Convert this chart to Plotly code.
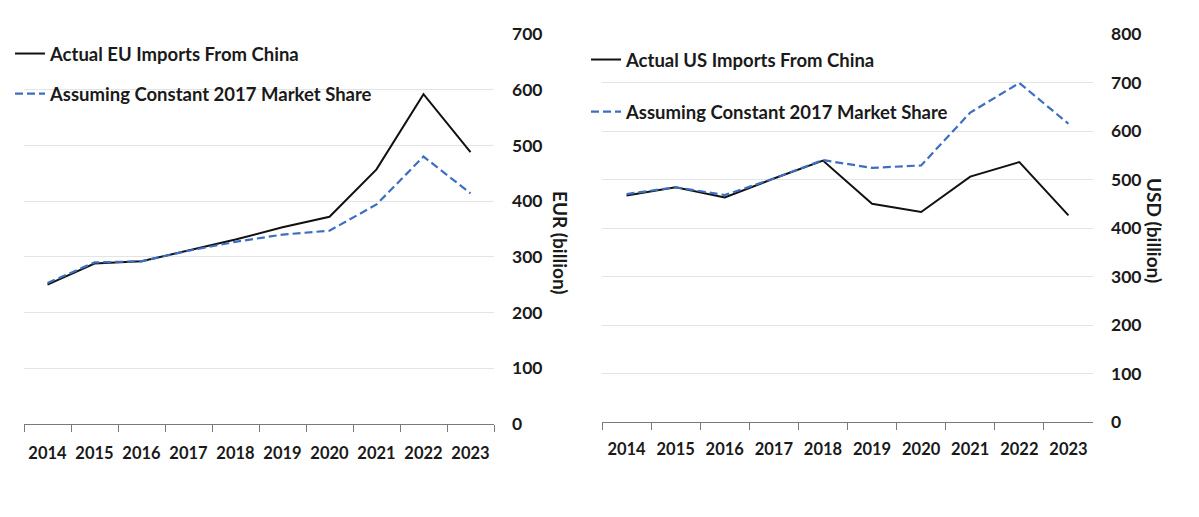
import plotly.graph_objects as go

years = ["2014", "2015", "2016", "2017", "2018", "2019", "2020", "2021", "2022", "2023"]

eu_actual = [250, 288, 292, 312, 331, 353, 372, 457, 592, 488]
eu_constant = [253, 290, 292, 311, 327, 340, 347, 394, 480, 414]

us_actual = [467, 484, 463, 502, 539, 450, 433, 506, 536, 426]
us_constant = [470, 484, 468, 502, 540, 524, 529, 638, 699, 615]

FONT = "Lato"
BLACK = "#111111"
BLUE = "#3d6fc0"
TXT = "#1a1a1a"
DASH = "8px,4px"

fig = go.Figure()

fig.add_trace(go.Scatter(x=years, y=eu_actual, mode="lines", name="Actual EU Imports From China",
                         line=dict(color=BLACK, width=2), xaxis="x", yaxis="y",
                         legend="legend", legendgroup="a"))
fig.add_trace(go.Scatter(x=years, y=eu_constant, mode="lines", name="Assuming Constant 2017 Market Share",
                         line=dict(color=BLUE, width=2.2, dash=DASH), xaxis="x", yaxis="y",
                         legend="legend", legendgroup="b"))
fig.add_trace(go.Scatter(x=years, y=us_actual, mode="lines", name="Actual US Imports From China",
                         line=dict(color=BLACK, width=2), xaxis="x2", yaxis="y2",
                         legend="legend2", legendgroup="c"))
fig.add_trace(go.Scatter(x=years, y=us_constant, mode="lines", name="Assuming Constant 2017 Market Share",
                         line=dict(color=BLUE, width=2.2, dash=DASH), xaxis="x2", yaxis="y2",
                         legend="legend2", legendgroup="d"))

W, H = 1199, 517
OFF = 8  # page body margin offset

def px(v):
    return (v - OFF) / W

def py(v):
    return 1 - (v - OFF) / H

xaxis_common = dict(type="category", range=[-0.5, 9.5], showgrid=False, showline=True,
                    linecolor="#7a7a7a", linewidth=1, ticks="outside", ticklen=7,
                    tickcolor="#7a7a7a", tickson="boundaries",
                    tickangle=0,
                    tickfont=dict(family=FONT, size=16.5, color=TXT, weight="bold"),
                    automargin=False, fixedrange=True)
yaxis_common = dict(side="right", showgrid=True, gridcolor="#e4e4e4", gridwidth=1,
                    zeroline=False, showline=False, ticks="", dtick=100,
                    ticklabelstandoff=17,
                    tickfont=dict(family=FONT, size=17.5, color=TXT, weight="bold"),
                    automargin=False, fixedrange=True)

fig.update_layout(
    width=W, height=H,
    margin=dict(l=0, r=0, t=0, b=0),
    paper_bgcolor="white", plot_bgcolor="white",
    font=dict(family=FONT, size=15, color=TXT),
    xaxis=dict(domain=[px(24), px(494)], anchor="y", ticklabelstandoff=14, **xaxis_common),
    yaxis=dict(domain=[py(424), py(34)], anchor="x", range=[0, 700], **yaxis_common),
    xaxis2=dict(domain=[px(602), px(1093)], anchor="y2", ticklabelstandoff=12, **xaxis_common),
    yaxis2=dict(domain=[py(422), py(34)], anchor="x2", range=[0, 800], **yaxis_common),
    legend=dict(x=px(10), y=py(35), xanchor="left", yanchor="top",
                bgcolor="rgba(0,0,0,0)", tracegroupgap=13, itemclick=False,
                font=dict(family=FONT, size=18.5, color=TXT, weight="bold")),
    legend2=dict(x=px(586), y=py(41), xanchor="left", yanchor="top",
                 bgcolor="rgba(0,0,0,0)", tracegroupgap=25, itemclick=False,
                 font=dict(family=FONT, size=18.5, color=TXT, weight="bold")),
    annotations=[
        dict(text="EUR (billion)", x=px(561), y=py(242), xref="paper", yref="paper",
             xanchor="center", yanchor="middle",
             showarrow=False, textangle=90,
             font=dict(family=FONT, size=19, color=TXT, weight="bold")),
        dict(text="USD (billion)", x=px(1155), y=py(230), xref="paper", yref="paper",
             xanchor="center", yanchor="middle",
             showarrow=False, textangle=90,
             font=dict(family=FONT, size=19, color=TXT, weight="bold")),
    ],
    showlegend=True,
)

fig.write_html("out.html")
